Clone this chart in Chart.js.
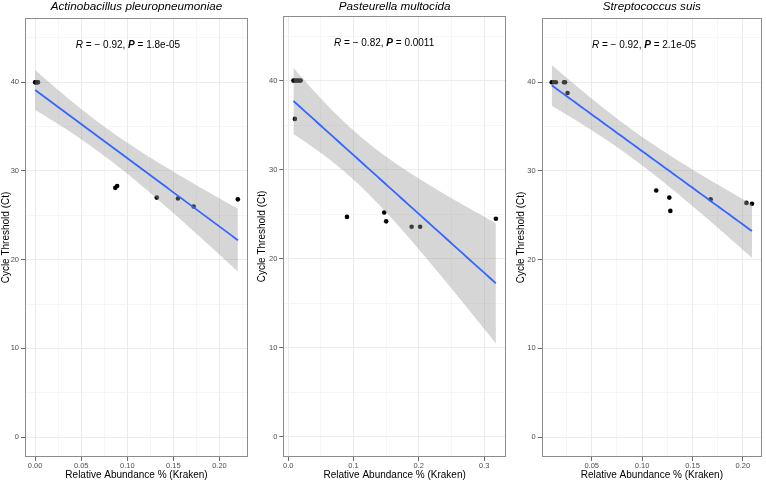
<!DOCTYPE html>
<html><head><meta charset="utf-8">
<script src="https://cdn.jsdelivr.net/npm/chart.js@4.4.1/dist/chart.umd.min.js"></script>
<style>
html,body{margin:0;padding:0;background:#fff;}
#wrap{position:relative;width:766px;height:481px;overflow:hidden;background:#fff;}
canvas{position:absolute;top:0;}
</style></head><body>
<div id="wrap">
<canvas id="c1" width="255" height="481" style="left:0px"></canvas>
<canvas id="c2" width="255" height="481" style="left:255px"></canvas>
<canvas id="c3" width="256" height="481" style="left:510px"></canvas>
</div>
<script>
// ---------- data ----------
const panelTitles = ['Actinobacillus pleuropneumoniae', 'Pasteurella multocida', 'Streptococcus suis'];

const apX = [0.000, 0.0005, 0.001, 0.002, 0.0025, 0.003, 0.087, 0.089, 0.132, 0.155, 0.172, 0.220];
const apY = [40, 40, 40, 40, 40, 40, 28.1, 28.3, 27.0, 26.9, 26.0, 26.8];

const pmX = [0.008, 0.010, 0.013, 0.016, 0.019, 0.0102, 0.090, 0.147, 0.150, 0.189, 0.202, 0.318];
const pmY = [40, 40, 40, 40, 40, 35.7, 24.7, 25.2, 24.2, 23.6, 23.6, 24.5];

const ssX = [0.0103, 0.012, 0.0145, 0.0225, 0.0235, 0.026, 0.114, 0.127, 0.128, 0.168, 0.2035, 0.209];
const ssY = [40, 40, 40, 40, 40, 38.8, 27.8, 27.0, 25.5, 26.8, 26.4, 26.3];

const corR = ['\u2212 0.92', '\u2212 0.82', '\u2212 0.92'];
const corP = ['1.8e-05', '0.0011', '2.1e-05'];

const yMajorTicks = [0, 10, 20, 30, 40];
const yMinorTicks = [5, 15, 25, 35, 45];
const yLimits = [0, 45];

const apXMajor = [0, 0.05, 0.10, 0.15, 0.20];
const apXMinor = [0.025, 0.075, 0.125, 0.175, 0.225];
const apXLabels = ['0.00', '0.05', '0.10', '0.15', '0.20'];

const pmXMajor = [0, 0.1, 0.2, 0.3];
const pmXMinor = [0.05, 0.15, 0.25];
const pmXLabels = ['0.0', '0.1', '0.2', '0.3'];

const ssXMajor = [0.05, 0.10, 0.15, 0.20];
const ssXMinor = [0.025, 0.075, 0.125, 0.175];
const ssXLabels = ['0.05', '0.10', '0.15', '0.20'];

const xTitle = 'Relative Abundance % (Kraken)';
const yTitle = 'Cycle Threshold (Ct)';
const T_CRIT = 2.228; // t(0.975, df = 10)

// ---------- helpers ----------
const FONT = "'Liberation Sans', Arial, Helvetica, sans-serif";

function lmBand(xs, ys, steps) {
  const n = xs.length;
  const mx = xs.reduce((a, b) => a + b, 0) / n;
  const my = ys.reduce((a, b) => a + b, 0) / n;
  let sxx = 0, sxy = 0;
  for (let i = 0; i < n; i++) { sxx += (xs[i] - mx) ** 2; sxy += (xs[i] - mx) * (ys[i] - my); }
  const b = sxy / sxx, a = my - b * mx;
  let sse = 0;
  for (let i = 0; i < n; i++) sse += (ys[i] - (a + b * xs[i])) ** 2;
  const s = Math.sqrt(sse / (n - 2));
  const lo = Math.min(...xs), hi = Math.max(...xs);
  const fit = [], up = [], dn = [];
  for (let k = 0; k <= steps; k++) {
    const x = lo + (hi - lo) * k / steps;
    const yh = a + b * x;
    const se = s * Math.sqrt(1 / n + (x - mx) ** 2 / sxx);
    fit.push({x, y: yh});
    up.push({x, y: yh + T_CRIT * se});
    dn.push({x, y: yh - T_CRIT * se});
  }
  return {fit, up, dn};
}

const panelDecor = {
  id: 'panelDecor',
  afterDraw(chart, args, opts) {
    const {ctx, chartArea: ca, scales} = chart;
    ctx.save();
    ctx.strokeStyle = '#8c8c8c';
    ctx.lineWidth = 1;
    ctx.strokeRect(Math.round(ca.left) + 0.5, Math.round(ca.top) + 0.5,
                   Math.round(ca.right - ca.left) - 1, Math.round(ca.bottom - ca.top) - 1);
    // panel title centred over the plot area
    ctx.fillStyle = '#000';
    ctx.textAlign = 'center';
    ctx.textBaseline = 'middle';
    ctx.font = 'italic 11.7px ' + FONT;
    ctx.fillText(opts.title, (ca.left + ca.right) / 2, opts.titleY);
    // correlation label
    const x0 = ca.left + (ca.right - ca.left) * opts.npcX;
    const y0 = scales.y.getPixelForValue(opts.yVal);
    const parts = [
      {t: 'R', f: 'italic 10px ' + FONT},
      {t: ' = ' + opts.r + ', ', f: '10px ' + FONT},
      {t: 'P', f: 'italic bold 10px ' + FONT},
      {t: ' = ' + opts.p, f: '10px ' + FONT}
    ];
    ctx.textAlign = 'left';
    let x = x0;
    for (const pt of parts) {
      ctx.font = pt.f;
      ctx.fillText(pt.t, x, y0);
      x += ctx.measureText(pt.t).width;
    }
    ctx.restore();
  }
};

function makePanel(id, idx, xs, ys, xMajor, xMinor, xLabels, geo) {
  const band = lmBand(xs, ys, 60);
  const lo = Math.min(...xs), hi = Math.max(...xs);
  const ex = (hi - lo) * 0.05;
  const ey = (yLimits[1] - yLimits[0]) * 0.05;
  const pts = xs.map((x, i) => ({x, y: ys[i]}));
  const isMajorX = v => xMajor.some(m => Math.abs(m - v) < 1e-9);
  const isMajorY = v => yMajorTicks.some(m => Math.abs(m - v) < 1e-9);
  const xTickVals = xMajor.concat(xMinor).filter(v => v >= lo - ex && v <= hi + ex).sort((a, b) => a - b);
  const yTickVals = yMajorTicks.concat(yMinorTicks).sort((a, b) => a - b);

  new Chart(document.getElementById(id), {
    type: 'scatter',
    data: {
      datasets: [
        {type: 'line', data: band.fit, borderColor: '#3366FF', borderWidth: 1.8, pointRadius: 0,
         fill: false, tension: 0, order: 0},
        {type: 'line', data: band.up, borderColor: 'rgba(0,0,0,0)', borderWidth: 0, pointRadius: 0,
         fill: false, order: 1},
        {type: 'line', data: band.dn, borderColor: 'rgba(0,0,0,0)', borderWidth: 0, pointRadius: 0,
         fill: '-1', backgroundColor: 'rgba(153,153,153,0.4)', order: 1},
        {type: 'scatter', data: pts, pointRadius: 2.3, pointBackgroundColor: '#000',
         pointBorderWidth: 0, pointBorderColor: '#000', order: 3}
      ]
    },
    options: {
      responsive: false,
      animation: false,
      devicePixelRatio: 1,
      layout: {padding: {left: geo.padLeft, right: geo.padRight, top: geo.top, bottom: 0}},
      plugins: {
        legend: {display: false},
        tooltip: {enabled: false},
        title: {display: false},
        panelDecor: {title: panelTitles[idx], titleY: 6.5, npcX: 0.228, yVal: 44.2, r: corR[idx], p: corP[idx]}
      },
      scales: {
        x: {
          type: 'linear', min: lo - ex, max: hi + ex, bounds: 'data',
          afterBuildTicks: s => { s.ticks = xTickVals.map(v => ({value: v})); },
          afterFit: s => { s.height = 24; },
          border: {display: false},
          grid: {
            color: c => isMajorX(c.tick.value) ? '#ebebeb' : '#f2f2f2',
            lineWidth: c => isMajorX(c.tick.value) ? 1 : 0.7,
            tickColor: c => isMajorX(c.tick.value) ? '#444' : 'rgba(0,0,0,0)',
            tickLength: 4, tickWidth: 0.8
          },
          ticks: {
            autoSkip: false, maxRotation: 0, padding: 0, color: '#4d4d4d',
            font: {family: FONT, size: 7.5},
            callback: v => { const i = xMajor.findIndex(m => Math.abs(m - v) < 1e-9); return i >= 0 ? xLabels[i] : ''; }
          },
          title: {display: true, text: xTitle, color: '#000', font: {family: FONT, size: 10},
                  padding: {top: 0, bottom: 0}}
        },
        y: {
          type: 'linear', min: yLimits[0] - ey, max: yLimits[1] + ey, bounds: 'data',
          afterBuildTicks: s => { s.ticks = yTickVals.map(v => ({value: v})); },
          afterFit: s => { s.width = geo.yW; },
          border: {display: false},
          grid: {
            color: c => isMajorY(c.tick.value) ? '#ebebeb' : '#f2f2f2',
            lineWidth: c => isMajorY(c.tick.value) ? 1 : 0.7,
            tickColor: c => isMajorY(c.tick.value) ? '#444' : 'rgba(0,0,0,0)',
            tickLength: 4, tickWidth: 0.8
          },
          ticks: {
            autoSkip: false, padding: geo.tickPad, color: '#4d4d4d',
            font: {family: FONT, size: 7.5},
            callback: v => isMajorY(v) ? String(v) : ''
          },
          title: {display: true, text: yTitle, color: '#000', font: {family: FONT, size: 10},
                  padding: {top: 0, bottom: 0}}
        }
      }
    },
    plugins: [panelDecor]
  });
}

makePanel('c1', 0, apX, apY, apXMajor, apXMinor, apXLabels, {padLeft: 0, padRight: 7, yW: 25, tickPad: 2, top: 18});
makePanel('c2', 1, pmX, pmY, pmXMajor, pmXMinor, pmXLabels, {padLeft: 1.7, padRight: 2.7, yW: 26.6, tickPad: 2, top: 16});
makePanel('c3', 2, ssX, ssY, ssXMajor, ssXMinor, ssXLabels, {padLeft: 5, padRight: 0.5, yW: 26.7, tickPad: 2, top: 18});
</script>
</body></html>
